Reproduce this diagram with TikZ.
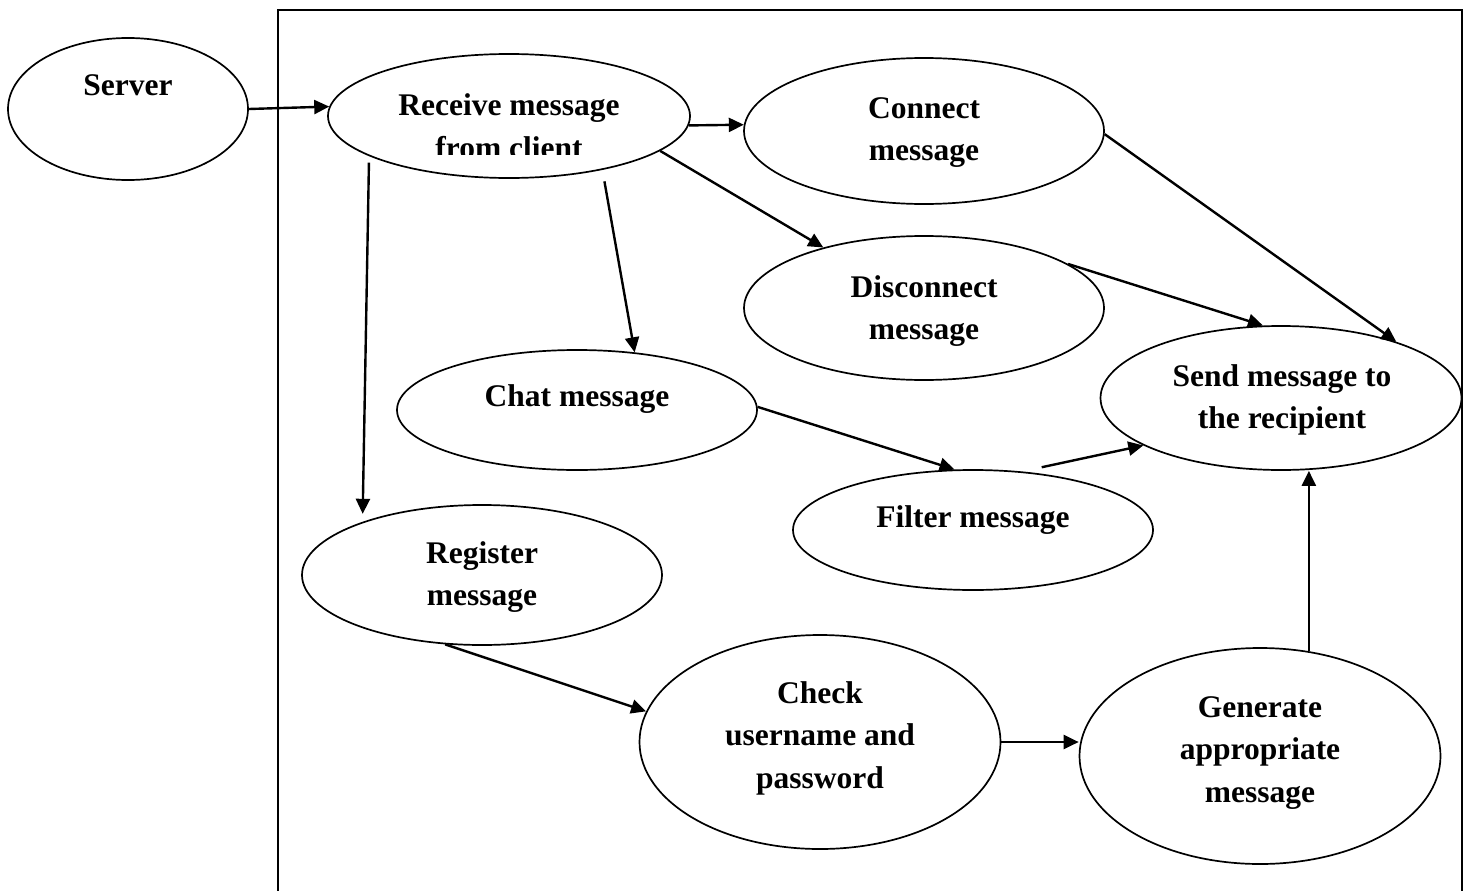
\documentclass[tikz,border=0pt]{standalone}
\usepackage{fontspec}
\setmainfont{Liberation Serif}
\usetikzlibrary{shapes.geometric,arrows.meta}

\begin{document}
\begin{tikzpicture}[x=1pt,y=-1pt,
  oval/.style={draw, ellipse, line width=1.7pt, inner sep=0pt},
  lbl/.style={font=\fontsize{31.5}{42.5}\selectfont\bfseries, align=center, inner sep=0pt, anchor=base},
  flow/.style={line width=2.4pt, -{Triangle[length=15pt,width=14pt]}}]

\useasboundingbox (0,0) rectangle (1469,891);

% open frame around the server processes
\draw[line width=2pt] (278,891) -- (278,10) -- (1462,10) -- (1462,891);

% process ovals
\node[oval, minimum width=240pt, minimum height=142pt] (srv) at (128,109) {};
\node[oval, minimum width=362pt, minimum height=124pt] (rcv) at (509,116) {};
\node[oval, minimum width=360pt, minimum height=146pt] (con) at (924,131) {};
\node[oval, minimum width=360pt, minimum height=144pt] (dis) at (924,308) {};
\node[oval, minimum width=360pt, minimum height=120pt] (cht) at (577,410) {};
\node[oval, minimum width=361pt, minimum height=144pt] (snd) at (1281,398) {};
\node[oval, minimum width=360pt, minimum height=120pt] (flt) at (973,530) {};
\node[oval, minimum width=360pt, minimum height=140pt] (reg) at (482,575) {};
\node[oval, minimum width=361pt, minimum height=214pt] (chk) at (820,742) {};
\node[oval, minimum width=361pt, minimum height=216pt] (gen) at (1260,756) {};

% labels (anchored on the baseline of their last line)
\node[lbl] (srvT) at (128,95) {Server};
\begin{scope}
  \clip (320,50) rectangle (700,154);
  \node[lbl] (rcvT) at (509,158) {Receive message\\from client};
\end{scope}
\node[lbl] (conT) at (924,160.5) {Connect\\message};
\node[lbl] (disT) at (924,339.5) {Disconnect\\message};
\node[lbl] (chtT) at (577,406) {Chat message};
\node[lbl] (sndT) at (1282,428.5) {Send message to\\the recipient};
\node[lbl] (fltT) at (973,527) {Filter message};
\node[lbl] (regT) at (482,605.5) {Register\\message};
\node[lbl] (chkT) at (820,788) {Check\\username and\\password};
\node[lbl] (genT) at (1260,802) {Generate\\appropriate\\message};

% message flow
\draw[flow] (srv.0) -- (rcv.177);
\draw[flow] (rcv.-3) -- (con.178);
\draw[flow] (rcv.-13) -- (dis.149);
\draw[flow, shorten <=11.6pt] (rcv.-30.6) -- (cht.45);
\draw[flow, shorten <=6.6pt, shorten >=8pt] (rcv.196.6) -- (reg.156.5);
\draw[flow] (con.-1) -- (snd.26);
\draw[flow] (dis.17) -- (snd.104);
\draw[flow] (cht.1) -- (flt.107);
\draw[flow, shorten <=20pt] (flt.50) -- (snd.199);
\draw[flow] (reg.242) -- (chk.170);
\draw[flow] (chk.east) -- (chk.east -| gen.west);
\draw[flow] (gen.65) -- (gen.65 |- snd.south);

\end{tikzpicture}
\end{document}
